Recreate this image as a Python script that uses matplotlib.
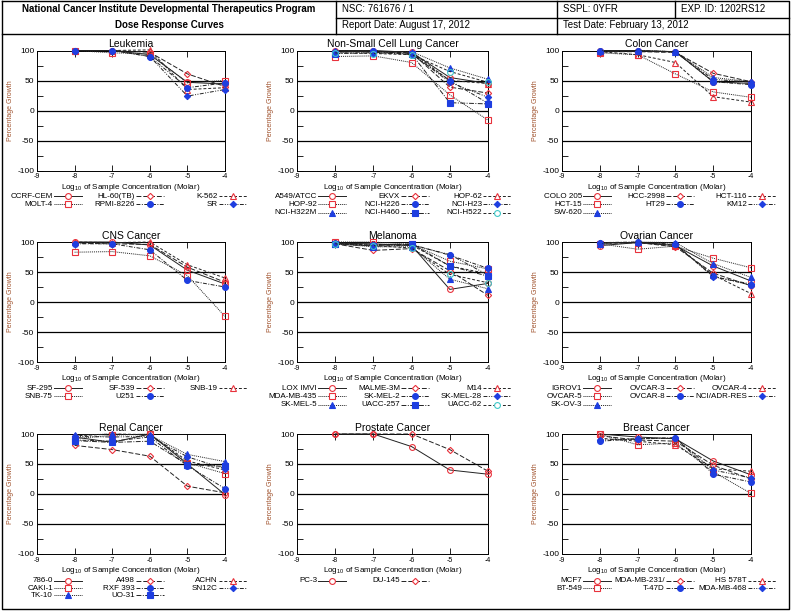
import matplotlib
matplotlib.use("Agg")
import matplotlib.pyplot as plt
from matplotlib.lines import Line2D
from matplotlib.ticker import MultipleLocator

plt.rcParams["font.family"] = ["Liberation Sans", "DejaVu Sans"]
plt.rcParams["axes.unicode_minus"] = False
plt.rcParams["mathtext.default"] = "regular"

# log10 molar concentrations
concentrations = [-8, -7, -6, -5, -4]

leukemia_lines = ["CCRF-CEM", "HL-60(TB)", "K-562", "MOLT-4", "RPMI-8226", "SR"]
leukemia_growth = [
    [100, 100, 93, 47, 44],
    [100, 100, 97, 61, 40],
    [100, 100, 101, 35, 38],
    [100, 96, 95, 46, 50],
    [100, 100, 90, 38, 46],
    [100, 100, 90, 24, 35],
]

lung_lines = ["A549/ATCC", "EKVX", "HOP-62", "HOP-92", "NCI-H226", "NCI-H23",
              "NCI-H322M", "NCI-H460", "NCI-H522"]
lung_growth = [
    [100, 100, 97, 55, 45],
    [98, 98, 96, 39, 29],
    [100, 98, 97, 50, 45],
    [90, 91, 80, 26, -16],
    [97, 100, 93, 50, 12],
    [98, 97, 95, 47, 22],
    [100, 98, 98, 71, 52],
    [95, 96, 94, 13, 11],
    [96, 95, 93, 65, 47],
]

colon_lines = ["COLO 205", "HCC-2998", "HCT-116", "HCT-15", "HT29", "KM12", "SW-620"]
colon_growth = [
    [100, 100, 98, 48, 45],
    [98, 98, 97, 62, 48],
    [98, 93, 80, 23, 14],
    [96, 93, 61, 31, 22],
    [99, 100, 98, 48, 43],
    [98, 99, 97, 52, 47],
    [100, 100, 98, 55, 48],
]

cns_lines = ["SF-295", "SF-539", "SNB-19", "SNB-75", "U251"]
cns_growth = [
    [100, 100, 95, 53, 30],
    [98, 97, 96, 58, 33],
    [100, 99, 100, 62, 40],
    [83, 84, 77, 44, -24],
    [97, 97, 87, 36, 25],
]

melanoma_lines = ["LOX IMVI", "MALME-3M", "M14", "MDA-MB-435", "SK-MEL-2",
                  "SK-MEL-28", "SK-MEL-5", "UACC-257", "UACC-62"]
melanoma_growth = [
    [98, 97, 94, 21, 31],
    [97, 86, 89, 52, 11],
    [98, 96, 95, 60, 47],
    [100, 100, 96, 68, 55],
    [97, 95, 96, 78, 56],
    [98, 93, 95, 79, 45],
    [97, 92, 92, 38, 22],
    [96, 94, 97, 60, 43],
    [97, 94, 90, 46, 32],
]

ovarian_lines = ["IGROV1", "OVCAR-3", "OVCAR-4", "OVCAR-5", "OVCAR-8",
                 "NCI/ADR-RES", "SK-OV-3"]
ovarian_growth = [
    [94, 99, 94, 60, 35],
    [98, 99, 92, 48, 27],
    [98, 99, 95, 45, 14],
    [97, 88, 93, 73, 57],
    [99, 100, 96, 43, 28],
    [99, 99, 96, 42, 30],
    [97, 100, 99, 64, 41],
]

renal_lines = ["786-0", "A498", "ACHN", "CAKI-1", "RXF 393", "SN12C", "TK-10", "UO-31"]
renal_growth = [
    [95, 86, 100, 50, -1],
    [81, 74, 63, 13, 2],
    [97, 100, 99, 55, 40],
    [92, 98, 100, 52, 34],
    [90, 88, 95, 47, 9],
    [96, 95, 96, 62, 42],
    [98, 100, 98, 66, 54],
    [89, 86, 88, 49, 46],
]

prostate_lines = ["PC-3", "DU-145"]
prostate_growth = [
    [100, 100, 79, 40, 33],
    [100, 100, 100, 74, 38],
]

breast_lines = ["MCF7", "MDA-MB-231/", "HS 578T", "BT-549", "T-47D", "MDA-MB-468"]
breast_growth = [
    [100, 95, 92, 55, 32],
    [97, 90, 88, 48, 25],
    [93, 88, 82, 42, 38],
    [100, 82, 85, 37, 1],
    [88, 92, 94, 33, 20],
    [90, 92, 93, 40, 27],
]

panels = [
    ("Leukemia", leukemia_lines, leukemia_growth),
    ("Non-Small Cell Lung Cancer", lung_lines, lung_growth),
    ("Colon Cancer", colon_lines, colon_growth),
    ("CNS Cancer", cns_lines, cns_growth),
    ("Melanoma", melanoma_lines, melanoma_growth),
    ("Ovarian Cancer", ovarian_lines, ovarian_growth),
    ("Renal Cancer", renal_lines, renal_growth),
    ("Prostate Cancer", prostate_lines, prostate_growth),
    ("Breast Cancer", breast_lines, breast_growth),
]

RED = "#e8323c"
BLUE = "#1e3ee0"
CYAN = "#40c8c8"
LINE = "#222222"
# marker, colour, face, dash pattern
styles = [
    ("o", RED, "none", "-"),
    ("D", RED, "none", (0, (5, 2))),
    ("^", RED, "none", (0, (3, 2))),
    ("s", RED, "none", (0, (1, 1))),
    ("o", BLUE, BLUE, (0, (4, 1.5, 1, 1.5))),
    ("D", BLUE, BLUE, (0, (4, 1.5, 1, 1.5, 1, 1.5))),
    ("^", BLUE, BLUE, (0, (1, 1))),
    ("s", BLUE, BLUE, (0, (5, 1.5, 1, 1.5))),
    ("o", CYAN, "none", (0, (3, 2))),
]

W, H = 794, 611


def fx(x):
    return x / W


def fy(y):
    return 1 - y / H


fig = plt.figure(figsize=(W / 100, H / 100), dpi=100)

# header block
frame = dict(color="black", lw=1.0, transform=fig.transFigure)
for xs, ys in [
    ([2, 789, 789, 2, 2], [1, 1, 609, 609, 1]),
    ([2, 789], [34, 34]),
    ([336, 336], [1, 34]),
    ([557, 557], [1, 34]),
    ([675, 675], [1, 17.5]),
    ([336, 789], [17.5, 17.5]),
]:
    fig.add_artist(Line2D([fx(v) for v in xs], [fy(v) for v in ys], **frame))

fig.text(fx(169), fy(9.5), "National Cancer Institute Developmental Therapeutics Program",
         ha="center", va="center", fontsize=7, fontweight="bold")
fig.text(fx(169), fy(25.5), "Dose Response Curves",
         ha="center", va="center", fontsize=7, fontweight="bold")
fig.text(fx(342), fy(9.5), "NSC: 761676 / 1", va="center", fontsize=7)
fig.text(fx(563), fy(9.5), "SSPL: 0YFR", va="center", fontsize=7)
fig.text(fx(681), fy(9.5), "EXP. ID: 1202RS12", va="center", fontsize=7)
fig.text(fx(342), fy(25.5), "Report Date: August 17, 2012", va="center", fontsize=7)
fig.text(fx(563), fy(25.5), "Test Date: February 13, 2012", va="center", fontsize=7)

col_left = [37, 297, 562]
col_width = [188, 191, 189]
row_top = [50.5, 242, 434]
ax_height = 120
legend_right = [[53, 135, 218], [317, 400, 482], [582, 665, 747]]
legend_top = [196, 388, 581]
legend_step = [8.4, 8.4, 7.2]

for p, (name, cells, growth) in enumerate(panels):
    r, c = divmod(p, 3)
    ax = fig.add_axes([fx(col_left[c]), fy(row_top[r] + ax_height),
                       col_width[c] / W, ax_height / H])
    for y in (50, 0, -50):
        ax.axhline(y, color="black", lw=0.9, zorder=1)
    for k, vals in enumerate(growth):
        m, col, face, ls = styles[k]
        ax.plot(concentrations, vals, color=LINE, lw=0.7, linestyle=ls,
                marker=m, markersize=3.2 if m == "D" else 4.2,
                markeredgecolor=col, markerfacecolor=face, markeredgewidth=0.8,
                zorder=3, clip_on=False)
    ax.set_xlim(-9, -4)
    ax.set_ylim(-100, 100)
    ax.set_xticks(range(-9, -3))
    ax.set_yticks([-100, -50, 0, 50, 100])
    ax.yaxis.set_minor_locator(MultipleLocator(25))
    ax.tick_params(which="both", direction="in", top=True, right=False,
                   length=4, width=0.6, pad=2)
    ax.tick_params(axis="x", labelsize=5)
    ax.tick_params(axis="y", labelsize=6)
    for s in ax.spines.values():
        s.set_linewidth(0.7)
    ax.set_title(name, fontsize=7.5, pad=2.5)
    ax.set_xlabel("Log$_{10}$ of Sample Concentration (Molar)", fontsize=5.8, labelpad=1)
    ax.set_ylabel("Percentage Growth", fontsize=5, color="#a0522d", labelpad=2)

    # legend rows laid out like the NCI report: name then line sample
    for k, cell in enumerate(cells):
        lr, lc = divmod(k, 3)
        xr = legend_right[c][lc]
        y = legend_top[r] + lr * legend_step[r]
        m, col, face, ls = styles[k]
        fig.text(fx(xr), fy(y), cell, ha="right", va="center", fontsize=5.8)
        fig.add_artist(Line2D([fx(xr + 1), fx(xr + 15), fx(xr + 29)], [fy(y)] * 3,
                              transform=fig.transFigure, color=LINE, lw=0.7,
                              linestyle=ls, marker=m, markevery=[1],
                              markersize=3.2 if m == "D" else 4.2,
                              markeredgecolor=col,
                              markerfacecolor="white" if face == "none" else face,
                              markeredgewidth=0.8))

fig.savefig("out.png", dpi=100)
